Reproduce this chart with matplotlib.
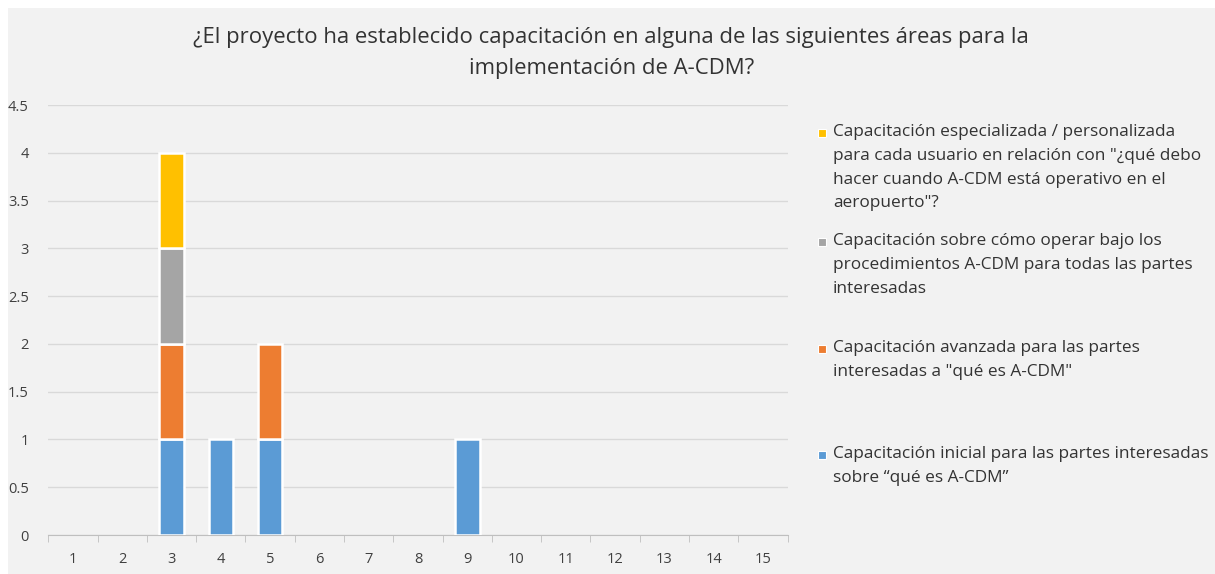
import numpy as np
from matplotlib import pyplot as plt
from matplotlib.patches import Rectangle

plt.rcParams['font.family'] = ['Open Sans', 'DejaVu Sans']

categorias = np.arange(1, 16)
inicial = np.array([0, 0, 1, 1, 1, 0, 0, 0, 1, 0, 0, 0, 0, 0, 0])
avanzada = np.array([0, 0, 1, 0, 1, 0, 0, 0, 0, 0, 0, 0, 0, 0, 0])
operar = np.array([0, 0, 1, 0, 0, 0, 0, 0, 0, 0, 0, 0, 0, 0, 0])
especializada = np.array([0, 0, 1, 0, 0, 0, 0, 0, 0, 0, 0, 0, 0, 0, 0])

series = [
    ("Capacitación inicial para las partes interesadas\nsobre \u201cqué es A-CDM\u201d", inicial, "#5B9BD5"),
    ("Capacitación avanzada para las partes\ninteresadas a \"qué es A-CDM\"", avanzada, "#ED7D31"),
    ("Capacitación sobre cómo operar bajo los\nprocedimientos A-CDM para todas las partes\ninteresadas", operar, "#A5A5A5"),
    ("Capacitación especializada / personalizada\npara cada usuario en relación con \"¿qué debo\nhacer cuando A-CDM está operativo en el\naeropuerto\"?", especializada, "#FFC000"),
]

titulo = "¿El proyecto ha establecido capacitación en alguna de las siguientes áreas para la\nimplementación de A-CDM?"

fig = plt.figure(figsize=(12.15, 5.74), dpi=100)
fig.patch.set_facecolor("white")
fig.patches.append(Rectangle((8 / 1215, 0), 1, 1 - 8 / 574, transform=fig.transFigure,
                             facecolor="#F2F2F2", edgecolor="none", zorder=-10))

ax = fig.add_axes([0.0398, 0.0679, 0.6084, 0.749])
ax.set_facecolor("none")

bottom = np.zeros(len(categorias))
for label, vals, color in series:
    m = vals > 0
    ax.bar(categorias[m], vals[m], bottom=bottom[m], width=0.5, color=color,
           edgecolor="white", linewidth=1.8, zorder=3)
    bottom = bottom + vals

ax.set_xlim(0.5, 15.5)
ax.set_ylim(0, 4.5)
ax.set_yticks(np.arange(0, 4.51, 0.5))
ax.set_yticklabels(["0", "0.5", "1", "1.5", "2", "2.5", "3", "3.5", "4", "4.5"])
ax.set_xticks(categorias)
ax.set_xticks(np.arange(0.5, 15.6, 1), minor=True)
ax.tick_params(axis="x", which="major", length=0, pad=12, labelsize=10.5, labelcolor="#404040")
ax.tick_params(axis="x", which="minor", length=5, color="#BFBFBF", direction="out")
ax.tick_params(axis="y", length=0, pad=14, labelsize=10.5, labelcolor="#404040")
ax.grid(axis="y", color="#D9D9D9", linewidth=1, zorder=0)
for s in ["top", "right", "left"]:
    ax.spines[s].set_visible(False)
ax.spines["bottom"].set_color("#BFBFBF")

fig.text(0.503, 1 - 53 / 574, titulo, ha="center", va="center", fontsize=15.9,
         color="#333333", linespacing=1.6)

# leyenda con entradas espaciadas como en Excel
ys = [455, 349, 242, 133]
for (label, vals, color), y in zip(series, ys):
    fig.patches.append(Rectangle((818 / 1215, 1 - (y + 4) / 574), 8 / 1215, 8 / 574,
                                 transform=fig.transFigure, facecolor=color,
                                 edgecolor="white", linewidth=0.8))
    fig.text(833 / 1215, 1 - (y - 9) / 574, label, ha="left", va="top",
             fontsize=12.4, color="#333333", linespacing=1.65)

fig.savefig("out.png", dpi=100, facecolor=fig.get_facecolor())
